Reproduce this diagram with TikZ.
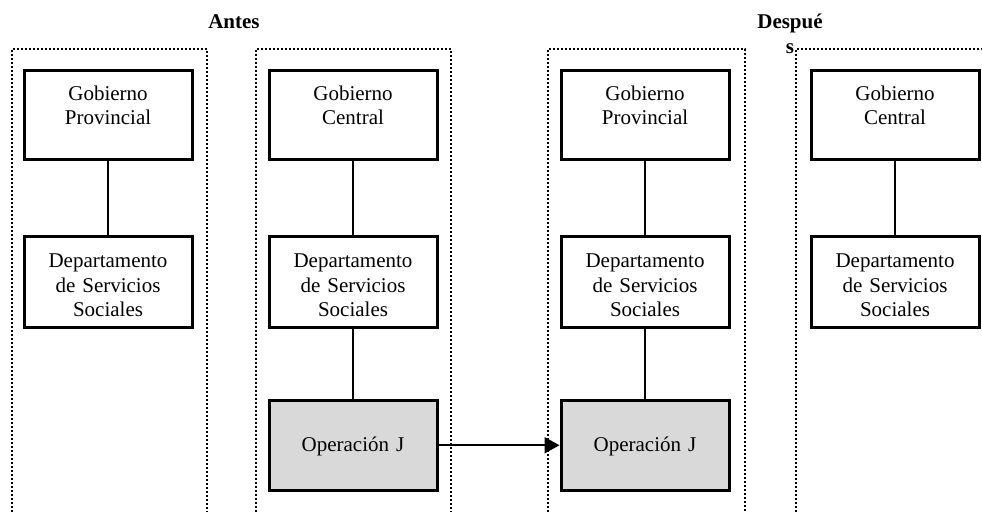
\documentclass[tikz,border=0pt]{standalone}
\usepackage{fontspec}
\setmainfont{Liberation Serif}
\usetikzlibrary{arrows.meta}
\definecolor{opgray}{RGB}{217,217,217}

\begin{document}
\begin{tikzpicture}[x=1pt,y=-1pt,
            font=\fontsize{21}{24.5}\selectfont,
            box/.style={draw,line width=3pt,text width=168pt,inner sep=0pt,align=center,anchor=north},
            gob/.style={box,text height=30pt,text depth=59.5pt},
            dep/.style={box,text height=31.75pt,text depth=59.75pt},
            op/.style={box,fill=opgray,text height=51.75pt,text depth=38.75pt},
            frame/.style={line width=2pt,dash pattern=on 2pt off 2pt},
            title/.style={font=\fontsize{21}{25}\selectfont\bfseries,align=center,inner sep=0pt,anchor=base}]
    \useasboundingbox (0,0) rectangle (982,512);

    % dotted frames, open at the bottom
    \draw[frame] (12,512) |- (207,49) -- (207,512);
    \draw[frame] (256,512) |- (451,49) -- (451,512);
    \draw[frame] (548,512) |- (745,49) -- (745,512);
    \draw[frame] (796,512) |- (982,49);

    \node[title](antes) at (234,28) {Antes};
    \node[title](despues) at (790,53) {Despué\\s};

    \node[gob](gob1) at (108,68.5) {Gobierno\\Provincial};
    \node[dep](dep1) at (108,234.5) {Departamento\\de Servicios\\Sociales};

    \node[gob](gob2) at (353,68.5) {Gobierno\\Central};
    \node[dep](dep2) at (353,234.5) {Departamento\\de Servicios\\Sociales};
    \node[op](op2) at (353,398.5) {Operación J};

    \node[gob](gob3) at (645,68.5) {Gobierno\\Provincial};
    \node[dep](dep3) at (645,234.5) {Departamento\\de Servicios\\Sociales};
    \node[op](op3) at (645,398.5) {Operación J};

    \node[gob](gob4) at (895,68.5) {Gobierno\\Central};
    \node[dep](dep4) at (895,234.5) {Departamento\\de Servicios\\Sociales};

    \begin{scope}[line width=2.5pt]
        \draw (gob1) -- (dep1);
        \draw (gob2) -- (dep2);
        \draw (dep2) -- (op2);
        \draw (gob3) -- (dep3);
        \draw (dep3) -- (op3);
        \draw (gob4) -- (dep4);
    \end{scope}
    \draw[-{Triangle[length=15pt,width=16pt]},line width=2pt] (op2) -- (op3);
\end{tikzpicture}
\end{document}
